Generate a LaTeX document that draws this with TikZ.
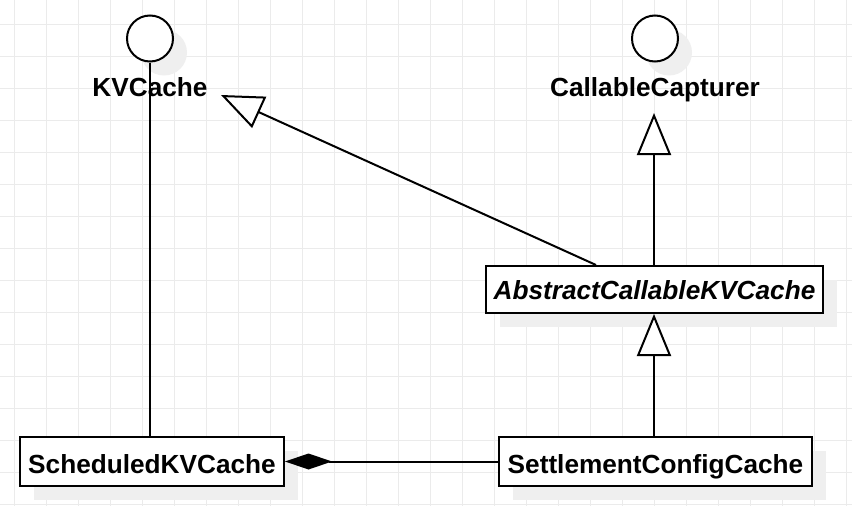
\documentclass[tikz,border=0pt]{standalone}
\usepackage{fontspec}
\setmainfont{Liberation Sans}
\usetikzlibrary{arrows.meta}
\definecolor{gridc}{HTML}{EBEBEB}
\definecolor{shadowc}{HTML}{EFEFEF}
\tikzset{
  umlbox/.style={draw=black, line width=2pt, fill=white, inner sep=0pt,
    font=\fontsize{26.2pt}{28pt}\selectfont\bfseries, text height=23pt, text depth=0pt},
  shadowbox/.style={fill=shadowc, draw=none},
  iface/.style={circle, draw=black, line width=2pt, fill=white, minimum size=46pt, inner sep=0pt},
  ifaceshadow/.style={circle, fill=shadowc, draw=none, minimum size=46pt, inner sep=0pt},
  ilabel/.style={font=\fontsize{26.2pt}{28pt}\selectfont\bfseries, anchor=base, inner sep=0pt},
  conn/.style={draw=black, line width=2pt},
  inh/.style={conn, -{Triangle[length=42pt, width=34pt, fill=white]}},
  comp/.style={conn, {Diamond[length=47pt, width=16pt]}-},
}
\begin{document}
\begin{tikzpicture}[x=1pt, y=-1pt]
\useasboundingbox (0,0) rectangle (852,506);
\fill[white] (0,0) rectangle (852,506);
% grid
\foreach \k in {0,...,26} {\draw[gridc, line width=1pt] ({14.7+32*\k},0) -- ({14.7+32*\k},506);}
\foreach \k in {0,...,15} {\draw[gridc, line width=1pt] (0,{24.3+32*\k}) -- (852,{24.3+32*\k});}
% shadows
\node[ifaceshadow] (kvs) at (164,52.5) {};
\node[ifaceshadow] (ccs) at (669,52.5) {};
\node[shadowbox, minimum width=337pt, minimum height=47pt] (abss) at (668.5,303.5) {};
\node[shadowbox, minimum width=264pt, minimum height=49pt] (scheds) at (166,475.5) {};
\node[shadowbox, minimum width=313pt, minimum height=49pt] (settles) at (669.5,475.5) {};
% interfaces
\node[iface] (kv) at (150,38.5) {};
\node[iface] (cc) at (655,38.5) {};
% classes
\node[umlbox, minimum width=337pt, minimum height=47pt, text height=19pt,
      font=\fontsize{26.2pt}{28pt}\selectfont\bfseries\itshape] (abs) at (654.5,289.5) {AbstractCallableKVCache};
\node[umlbox, minimum width=264pt, minimum height=49pt] (sched) at (152,461.5) {ScheduledKVCache};
\node[umlbox, minimum width=313pt, minimum height=49pt] (settle) at (655.5,461.5) {SettlementConfigCache};
% connectors
\draw[conn] (kv.south) -- (kv.south |- sched.north);
\node[ilabel] (kvl) at (150,96.5) {KVCache};
\node[ilabel] (ccl) at (655,96.5) {CallableCapturer};
\coordinate (t1) at (221,95);
\coordinate (t2) at (654,113);
\coordinate (a1) at (596,265);
\draw[inh] (a1) -- (t1);
\draw[inh] (abs.north -| t2) -- (t2);
\draw[inh] (settle.north -| t2) -- (abs.south -| t2);
\draw[comp] (sched.east) -- (settle.west);
\end{tikzpicture}
\end{document}
